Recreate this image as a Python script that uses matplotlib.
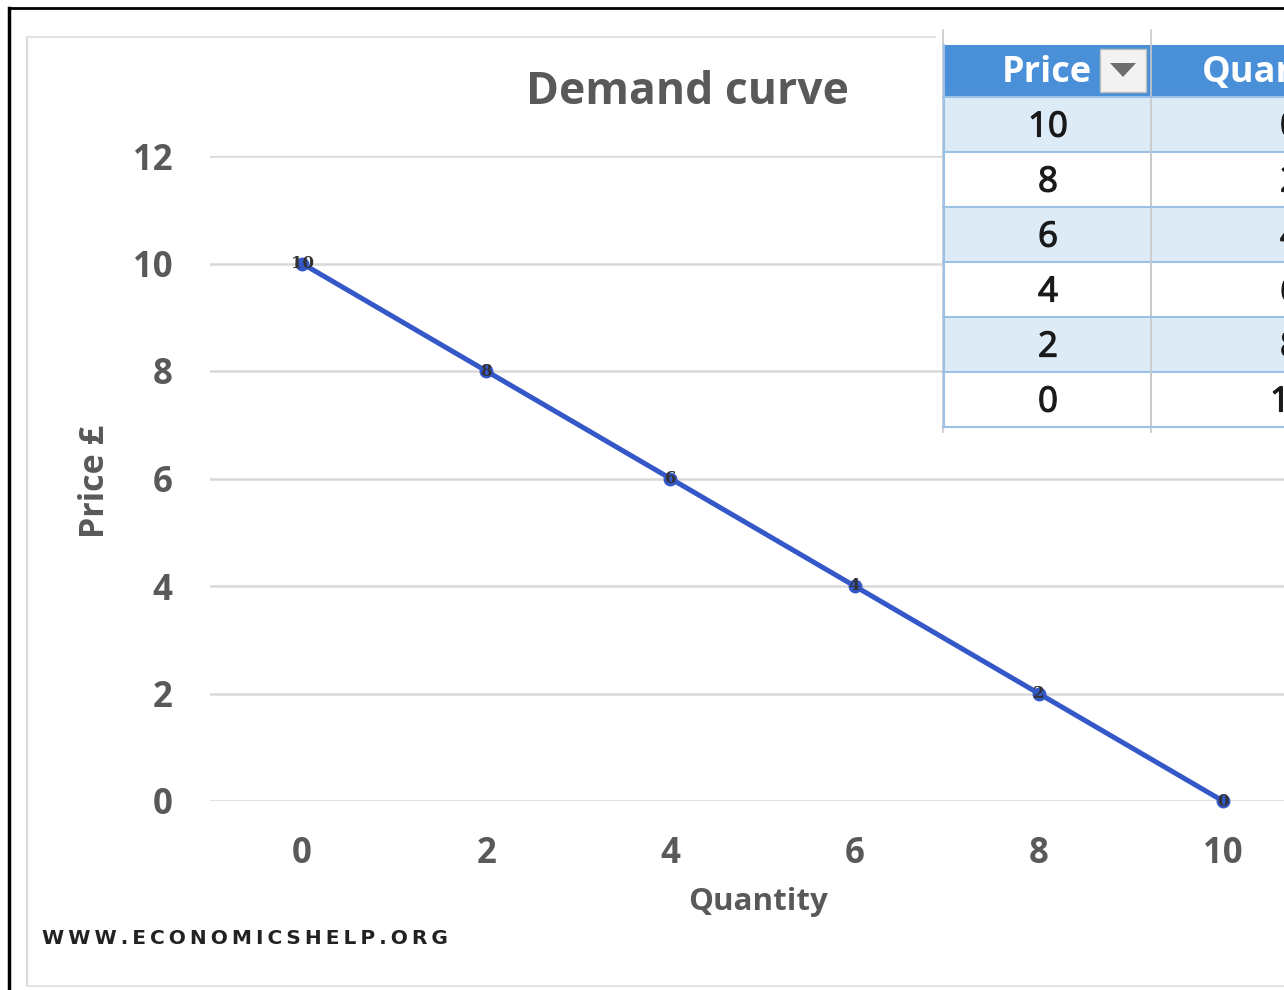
import matplotlib
matplotlib.use("Agg")
import matplotlib.pyplot as plt
from matplotlib.patches import Rectangle, Polygon
import matplotlib.patheffects as pe

# ---------------- data ----------------
quantity = [0, 2, 4, 6, 8, 10]
price = [10, 8, 6, 4, 2, 0]
point_labels = ["10", "8", "6", "4", "2", "0"]
x_ticks = [0, 2, 4, 6, 8, 10]
y_ticks = [0, 2, 4, 6, 8, 10, 12]
title = "Demand curve"
x_label = "Quantity"
y_label = "Price £"
table_header = ["Price", "Quantity"]
table_price = ["10", "8", "6", "4", "2", "0"]
table_qty = ["0", "2", "4", "6", "8", "10"]
watermark = "WWW.ECONOMICSHELP.ORG"

W, H = 1284, 990
FONT = "Open Sans"
GRAY = "#595959"
LINE = "#3558C8"

fig = plt.figure(figsize=(W / 100, H / 100), dpi=100)
fig.patch.set_facecolor("white")

# background overlay axes in pixel coordinates
bg = fig.add_axes([0, 0, 1, 1], zorder=0)
bg.set_xlim(0, W)
bg.set_ylim(H, 0)
bg.axis("off")

# black frame (left and top), chart-area light border
bg.plot([9, 9], [8, H], color="black", lw=2.5)
bg.plot([9, W], [8, 8], color="black", lw=2.0)
bg.plot([27, 27], [37, 986], color="#D9D9D9", lw=1.5)
bg.plot([27, 935], [37, 37], color="#E3E3E3", lw=1.5)
bg.plot([27, W], [986, 986], color="#E3E3E3", lw=1.5)

# ---------------- main plot ----------------
x0, x1 = 210, 1315
y0, y1 = 156, 801
ax = fig.add_axes([x0 / W, 1 - y1 / H, (x1 - x0) / W, (y1 - y0) / H], zorder=1)
ax.patch.set_alpha(0)
ax.set_xlim(-1, 11)
ax.set_ylim(0, 12)
for s in ax.spines.values():
    s.set_visible(False)
ax.set_yticks(y_ticks)
ax.set_xticks(x_ticks)
ax.grid(axis="y", color="#D9D9D9", lw=1.8)
ax.set_axisbelow(True)
ax.tick_params(length=0)
ax.tick_params(axis="y", pad=27)
ax.tick_params(axis="x", pad=25)
for lab in ax.get_yticklabels() + ax.get_xticklabels():
    lab.set_fontfamily(FONT)
    lab.set_fontweight("bold")
    lab.set_fontsize(25)
    lab.set_color(GRAY)

ax.plot(quantity, price, color=LINE, lw=3.6, marker="o", ms=9,
        markerfacecolor=LINE, markeredgecolor=LINE, zorder=3, clip_on=False)
for q, p, t in zip(quantity, price, point_labels):
    ax.text(q, p, t, ha="center", va="center", fontsize=12, color="#333333",
            fontfamily="DejaVu Serif", fontweight="bold", zorder=4)

# axis titles
fig.text(758 / W, 1 - 902 / H, x_label, ha="center", va="center",
         fontfamily=FONT, fontweight="bold", fontsize=22.5, color=GRAY)
fig.text(95 / W, 1 - 481 / H, y_label, ha="center", va="center", rotation=90,
         fontfamily=FONT, fontweight="bold", fontsize=24.5, color=GRAY)
fig.text(687 / W, 1 - 92 / H, title, ha="center", va="center",
         fontfamily=FONT, fontweight="bold", fontsize=32, color=GRAY)

# watermark
fig.text(42 / W, 1 - 938 / H, "\u2009".join(watermark), ha="left", va="center",
         fontfamily="DejaVu Sans", fontweight="bold", fontsize=14.5, color="#222222")

# ---------------- table overlay ----------------
tb = fig.add_axes([0, 0, 1, 1], zorder=5)
tb.set_xlim(0, W)
tb.set_ylim(H, 0)
tb.axis("off")
tx0, tcol, tx1 = 943, 1151, 1400
ty_head0, ty_head1 = 45, 97
row_h = 55
thick = [pe.withStroke(linewidth=0.9, foreground="#1a1a1a")]
# sheet gridlines
tb.plot([tx0, tx0], [30, 432], color="#C8C8C8", lw=1.2)
tb.plot([tcol, tcol], [30, 432], color="#C8C8C8", lw=1.2)
tb.add_patch(Rectangle((tx0 - 1, 32), W - tx0 + 1, 13, facecolor="white", edgecolor="none"))
tb.add_patch(Rectangle((tx0, ty_head0), tx1 - tx0, ty_head1 - ty_head0,
                       facecolor="#4A90D9", edgecolor="none"))
for i, (pv, qv) in enumerate(zip(table_price, table_qty)):
    ry = ty_head1 + i * row_h
    fc = "#DDEBF7" if i % 2 == 0 else "white"
    tb.add_patch(Rectangle((tx0, ry), tx1 - tx0, row_h, facecolor=fc, edgecolor="none"))
    tb.plot([tx0, tx1], [ry, ry], color="#9BC2E6", lw=1.5)
    if i % 2 == 1:
        tb.plot([tcol, tcol], [ry, ry + row_h], color="#C8C8C8", lw=1.2)
    tb.text(1048, ry + row_h / 2 + 3, pv, ha="center", va="center",
            fontfamily=FONT, fontsize=25, color="#1a1a1a", path_effects=thick)
    tb.text(1290, ry + row_h / 2 + 3, qv, ha="center", va="center",
            fontfamily=FONT, fontsize=25, color="#1a1a1a", path_effects=thick)
bottom = ty_head1 + len(table_price) * row_h
tb.plot([tx0, tx1], [bottom, bottom], color="#9BC2E6", lw=1.5)
tb.plot([tx0 + 1, tx0 + 1], [ty_head0, bottom], color="#9BC2E6", lw=1.5)
# header texts
tb.text(1047, 73, table_header[0], ha="center", va="center",
        fontfamily=FONT, fontweight="bold", fontsize=26, color="white")
tb.text(1202, 73, table_header[1], ha="left", va="center",
        fontfamily=FONT, fontweight="bold", fontsize=26, color="white")
# dropdown button
tb.add_patch(Rectangle((1100, 49), 46, 43, facecolor="#F2F2F2", edgecolor="#BFBFBF", lw=1))
tb.add_patch(Polygon([[1110, 63], [1136, 63], [1123, 77]], closed=True,
                     facecolor="#6E6E6E", edgecolor="none"))

fig.savefig("out.png", dpi=100, facecolor="white")
